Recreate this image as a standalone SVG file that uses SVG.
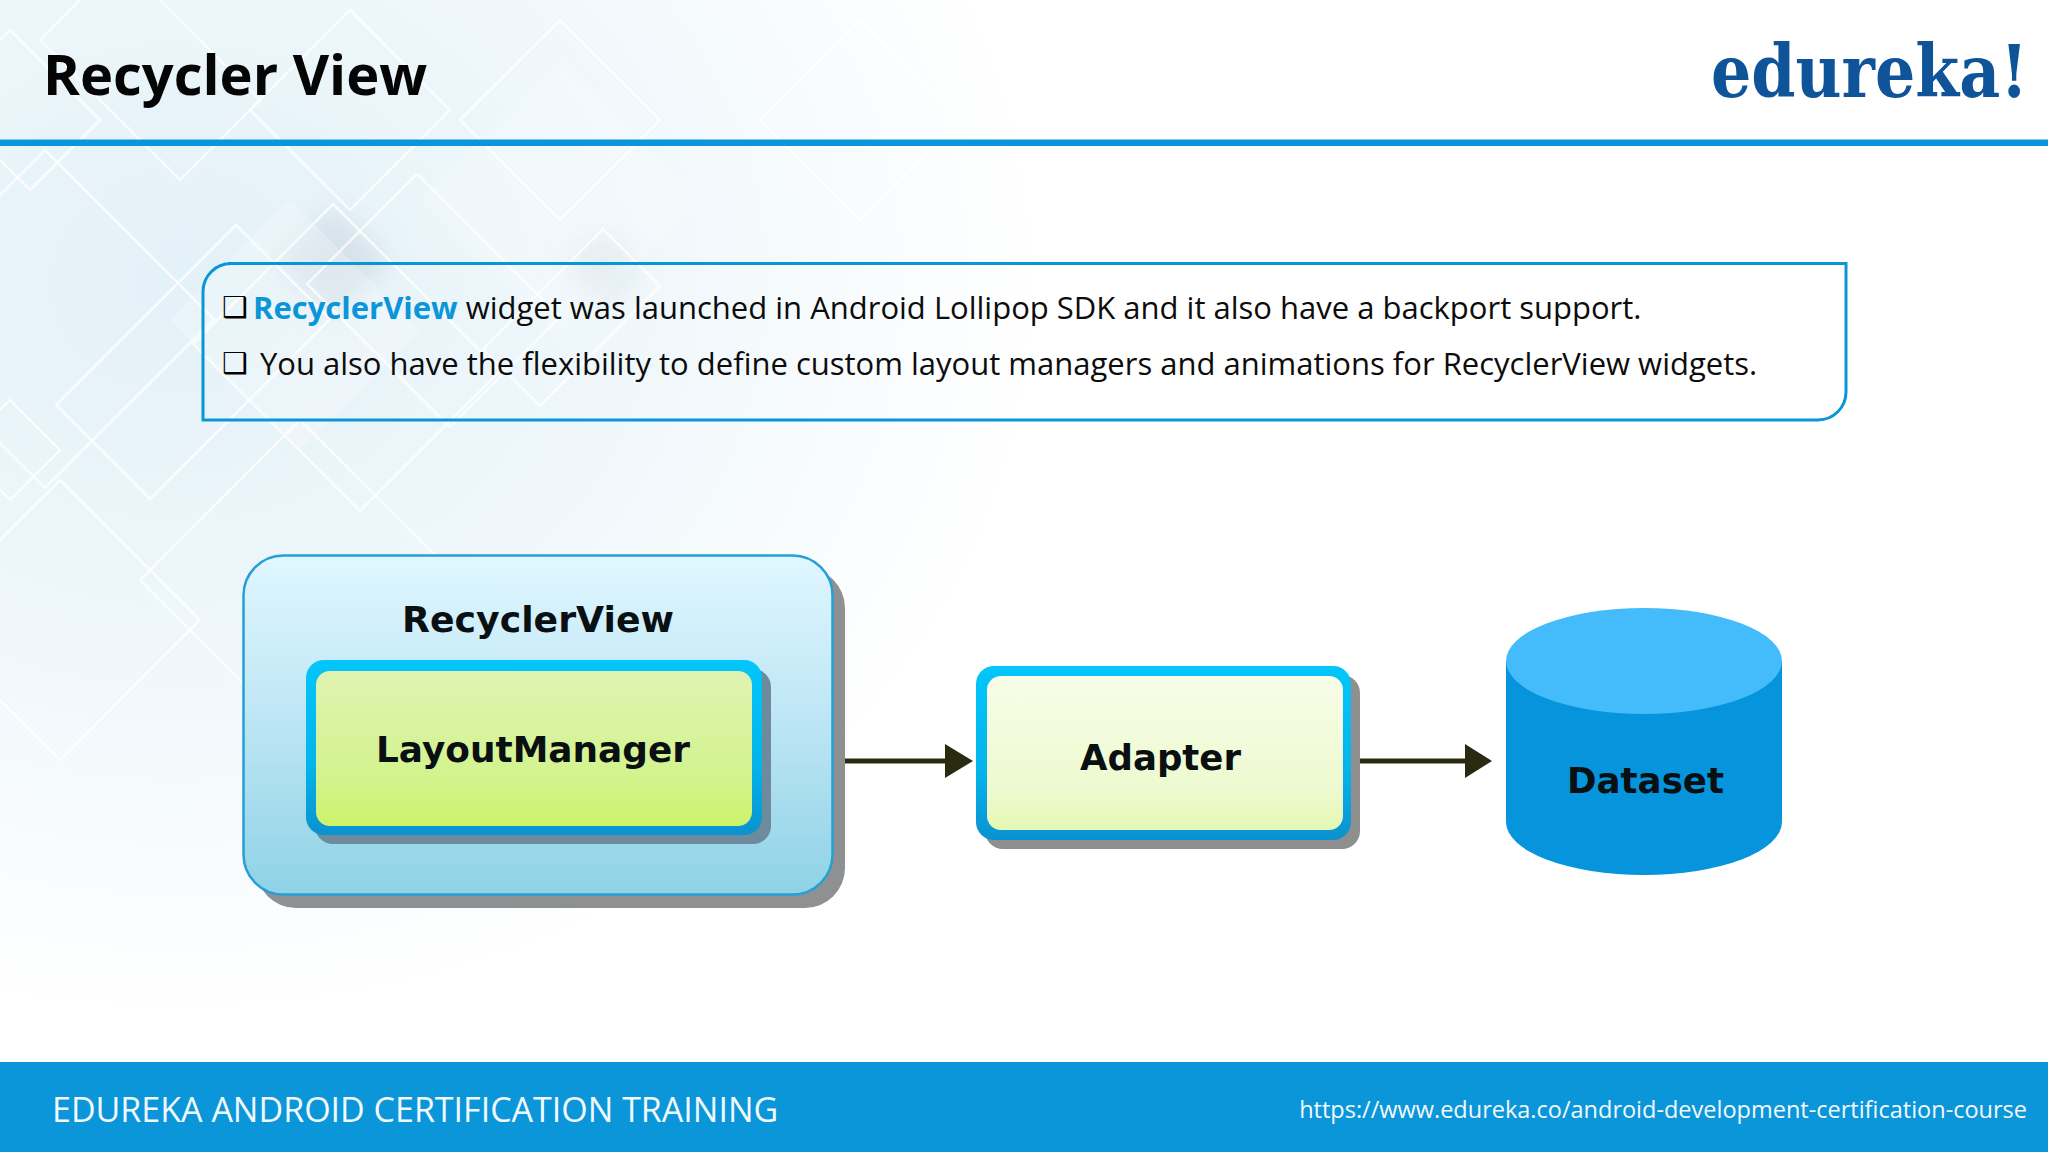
<svg xmlns="http://www.w3.org/2000/svg" width="2048" height="1152" viewBox="0 0 2048 1152">
<style>
.os{font-family:"Open Sans","Liberation Sans",sans-serif}
.lbl{font-family:"DejaVu Sans",sans-serif;font-weight:700;font-size:36px;fill:#0a0f12;text-anchor:start}
.body{font-size:31px;fill:#0c0c0c}
.bul{font-family:"DejaVu Sans",sans-serif;font-size:29px;fill:#000}
.dia{fill:none;stroke:#fff;stroke-width:2.5;opacity:.75}
.dia2{fill:#fff;opacity:.22}
.conn{stroke:#2a2a10;stroke-width:5;fill:none}
.head{fill:#2a2a10}
</style>
<defs>
<radialGradient id="bg" gradientUnits="userSpaceOnUse" cx="180" cy="300" r="1">
<stop offset="0" stop-color="#e2f1f8"/><stop offset=".45" stop-color="#eef7fb"/><stop offset="1" stop-color="#fff"/>
</radialGradient>
<radialGradient id="bg2" gradientUnits="userSpaceOnUse" cx="180" cy="260" r="860" gradientTransform="translate(0 60) scale(1 .85)">
<stop offset="0" stop-color="#e3f1f8"/><stop offset=".5" stop-color="#eff7fb"/><stop offset="1" stop-color="#ffffff"/>
</radialGradient>
<linearGradient id="rv" x1="0" y1="0" x2="0" y2="1"><stop offset="0" stop-color="#e0f7ff"/><stop offset=".45" stop-color="#c0e7f5"/><stop offset="1" stop-color="#8fd2e6"/></linearGradient>
<linearGradient id="bord" x1="0" y1="0" x2="0" y2="1"><stop offset="0" stop-color="#02c6fb"/><stop offset=".6" stop-color="#04b4ea"/><stop offset="1" stop-color="#0a92cf"/></linearGradient>
<linearGradient id="lm" x1="0" y1="0" x2="0" y2="1"><stop offset="0" stop-color="#e0f3b2"/><stop offset=".7" stop-color="#d2f38d"/><stop offset="1" stop-color="#cdf26a"/></linearGradient>
<linearGradient id="ad" x1="0" y1="0" x2="0" y2="1"><stop offset="0" stop-color="#f8fde9"/><stop offset=".75" stop-color="#edfacf"/><stop offset="1" stop-color="#e4f9b4"/></linearGradient>
<filter id="soft" x="-50%" y="-50%" width="200%" height="200%"><feGaussianBlur stdDeviation="14"/></filter>
</defs>

<g id="background">
<rect width="2048" height="1152" fill="#fff"/>
<rect width="2048" height="1152" fill="url(#bg2)"/>
<polygon points="333,204 390,262 333,320 276,262" fill="#cfdbe4" opacity=".7" filter="url(#soft)"/>
<polygon points="603,229 640,266 603,303 566,266" fill="#d5e0e8" opacity=".6" filter="url(#soft)"/>
<polygon points="290,200 420,330 300,450 170,320" class="dia2"/>
<polygon points="560,60 700,200 560,340 420,200" class="dia2"/>
<polygon points="45,150 214,319 45,488 -124,319" class="dia"/>
<polygon points="236,225 330,319 150,499 56,405" class="dia"/>
<polygon points="417,174 560,317 450,427 307,284" class="dia"/>
<polygon points="333,204 500,371 360,511 193,344" class="dia"/>
<polygon points="603,229 660,286 540,406 483,349" class="dia"/>
<polygon points="10,30 100,120 30,190 -60,100" class="dia"/>
<polygon points="350,10 450,110 350,210 250,110" class="dia"/>
<polygon points="120,-40 260,100 180,180 40,40" class="dia"/>
<polygon points="10,400 60,450 10,500 -40,450" class="dia"/>
<polygon points="460,120 560,20 660,120 560,220" class="dia" opacity=".5"/>
<polygon points="300,420 460,580 300,740 140,580" class="dia" opacity=".4"/>
<polygon points="60,480 200,620 60,760 -80,620" class="dia" opacity=".4"/>
<polygon points="860,20 960,120 860,220 760,120" class="dia" opacity=".4"/>
</g>

<g id="header">
<rect x="0" y="139.500" width="2048" height="6.500" fill="#0a96dc"/>
<text x="43" y="95" class="os" font-size="56" font-weight="700" fill="#050505">Recycler View</text>
<text x="1711" y="97" font-family="'DejaVu Serif',serif" font-weight="700" font-size="72" fill="#0f5499" textLength="317" lengthAdjust="spacingAndGlyphs">edureka!</text>
</g>

<g id="info-box">
<path d="M228,263.500H1846V392A28,28 0 0 1 1818,420H203V291.500A28,28 0 0 1 231,263.500Z" fill="none" stroke="#0a96d6" stroke-width="3"/>
<text x="222" y="317" class="bul">❑</text>
<text x="253" y="318.500" class="os body"><tspan font-weight="700" fill="#0a96d8">RecyclerView</tspan> widget was launched in Android Lollipop SDK and it also have a backport support.</text>
<text x="222" y="373" class="bul">❑</text>
<text x="260" y="374.500" class="os body">You also have the flexibility to define custom layout managers and animations for RecyclerView widgets.</text>
</g>

<g id="connectors">
<path class="conn" d="M833,761H950"/>
<polygon class="head" points="945,744 973,761 945,778"/>
<path class="conn" d="M1351,761H1470"/>
<polygon class="head" points="1465,744 1492,761 1465,778"/>
</g>

<g id="recyclerview">
<rect x="256" y="568" width="589" height="340" rx="40" fill="#8e9092"/>
<rect x="243.500" y="555.500" width="589" height="339" rx="40" fill="url(#rv)" stroke="#259fd6" stroke-width="2.500"/>
<text x="402" y="632" class="lbl" textLength="272" lengthAdjust="spacingAndGlyphs">RecyclerView</text>
</g>

<g id="layoutmanager">
<rect x="315" y="669" width="456" height="175" rx="18" fill="#6d8b9c"/>
<rect x="306" y="660" width="456" height="175" rx="18" fill="url(#bord)"/>
<rect x="316" y="671" width="436" height="155" rx="14" fill="url(#lm)"/>
<text x="376" y="762" class="lbl" textLength="314" lengthAdjust="spacingAndGlyphs">LayoutManager</text>
</g>

<g id="adapter">
<rect x="985" y="675" width="375" height="174" rx="18" fill="#8f8f8f"/>
<rect x="976" y="666" width="375" height="174" rx="18" fill="url(#bord)"/>
<rect x="987" y="676" width="356" height="154" rx="14" fill="url(#ad)"/>
<text x="1080" y="770" class="lbl" textLength="161" lengthAdjust="spacingAndGlyphs">Adapter</text>
</g>

<g id="dataset">
<path d="M1506,661V822A138,53 0 0 0 1782,822V661Z" fill="#0695dc"/>
<ellipse cx="1644" cy="661" rx="138" ry="53" fill="#44bbfb"/>
<text x="1567" y="793" class="lbl" textLength="157" lengthAdjust="spacingAndGlyphs">Dataset</text>
</g>

<g id="footer">
<rect x="0" y="1062" width="2048" height="90" fill="#0a96d8"/>
<text x="52" y="1122" class="os" font-size="34" fill="#f2f9fd">EDUREKA ANDROID CERTIFICATION TRAINING</text>
<text x="2027" y="1118" class="os" font-size="23.500" fill="#f2f9fd" text-anchor="end">https://www.edureka.co/android-development-certification-course</text>
</g>
</svg>
